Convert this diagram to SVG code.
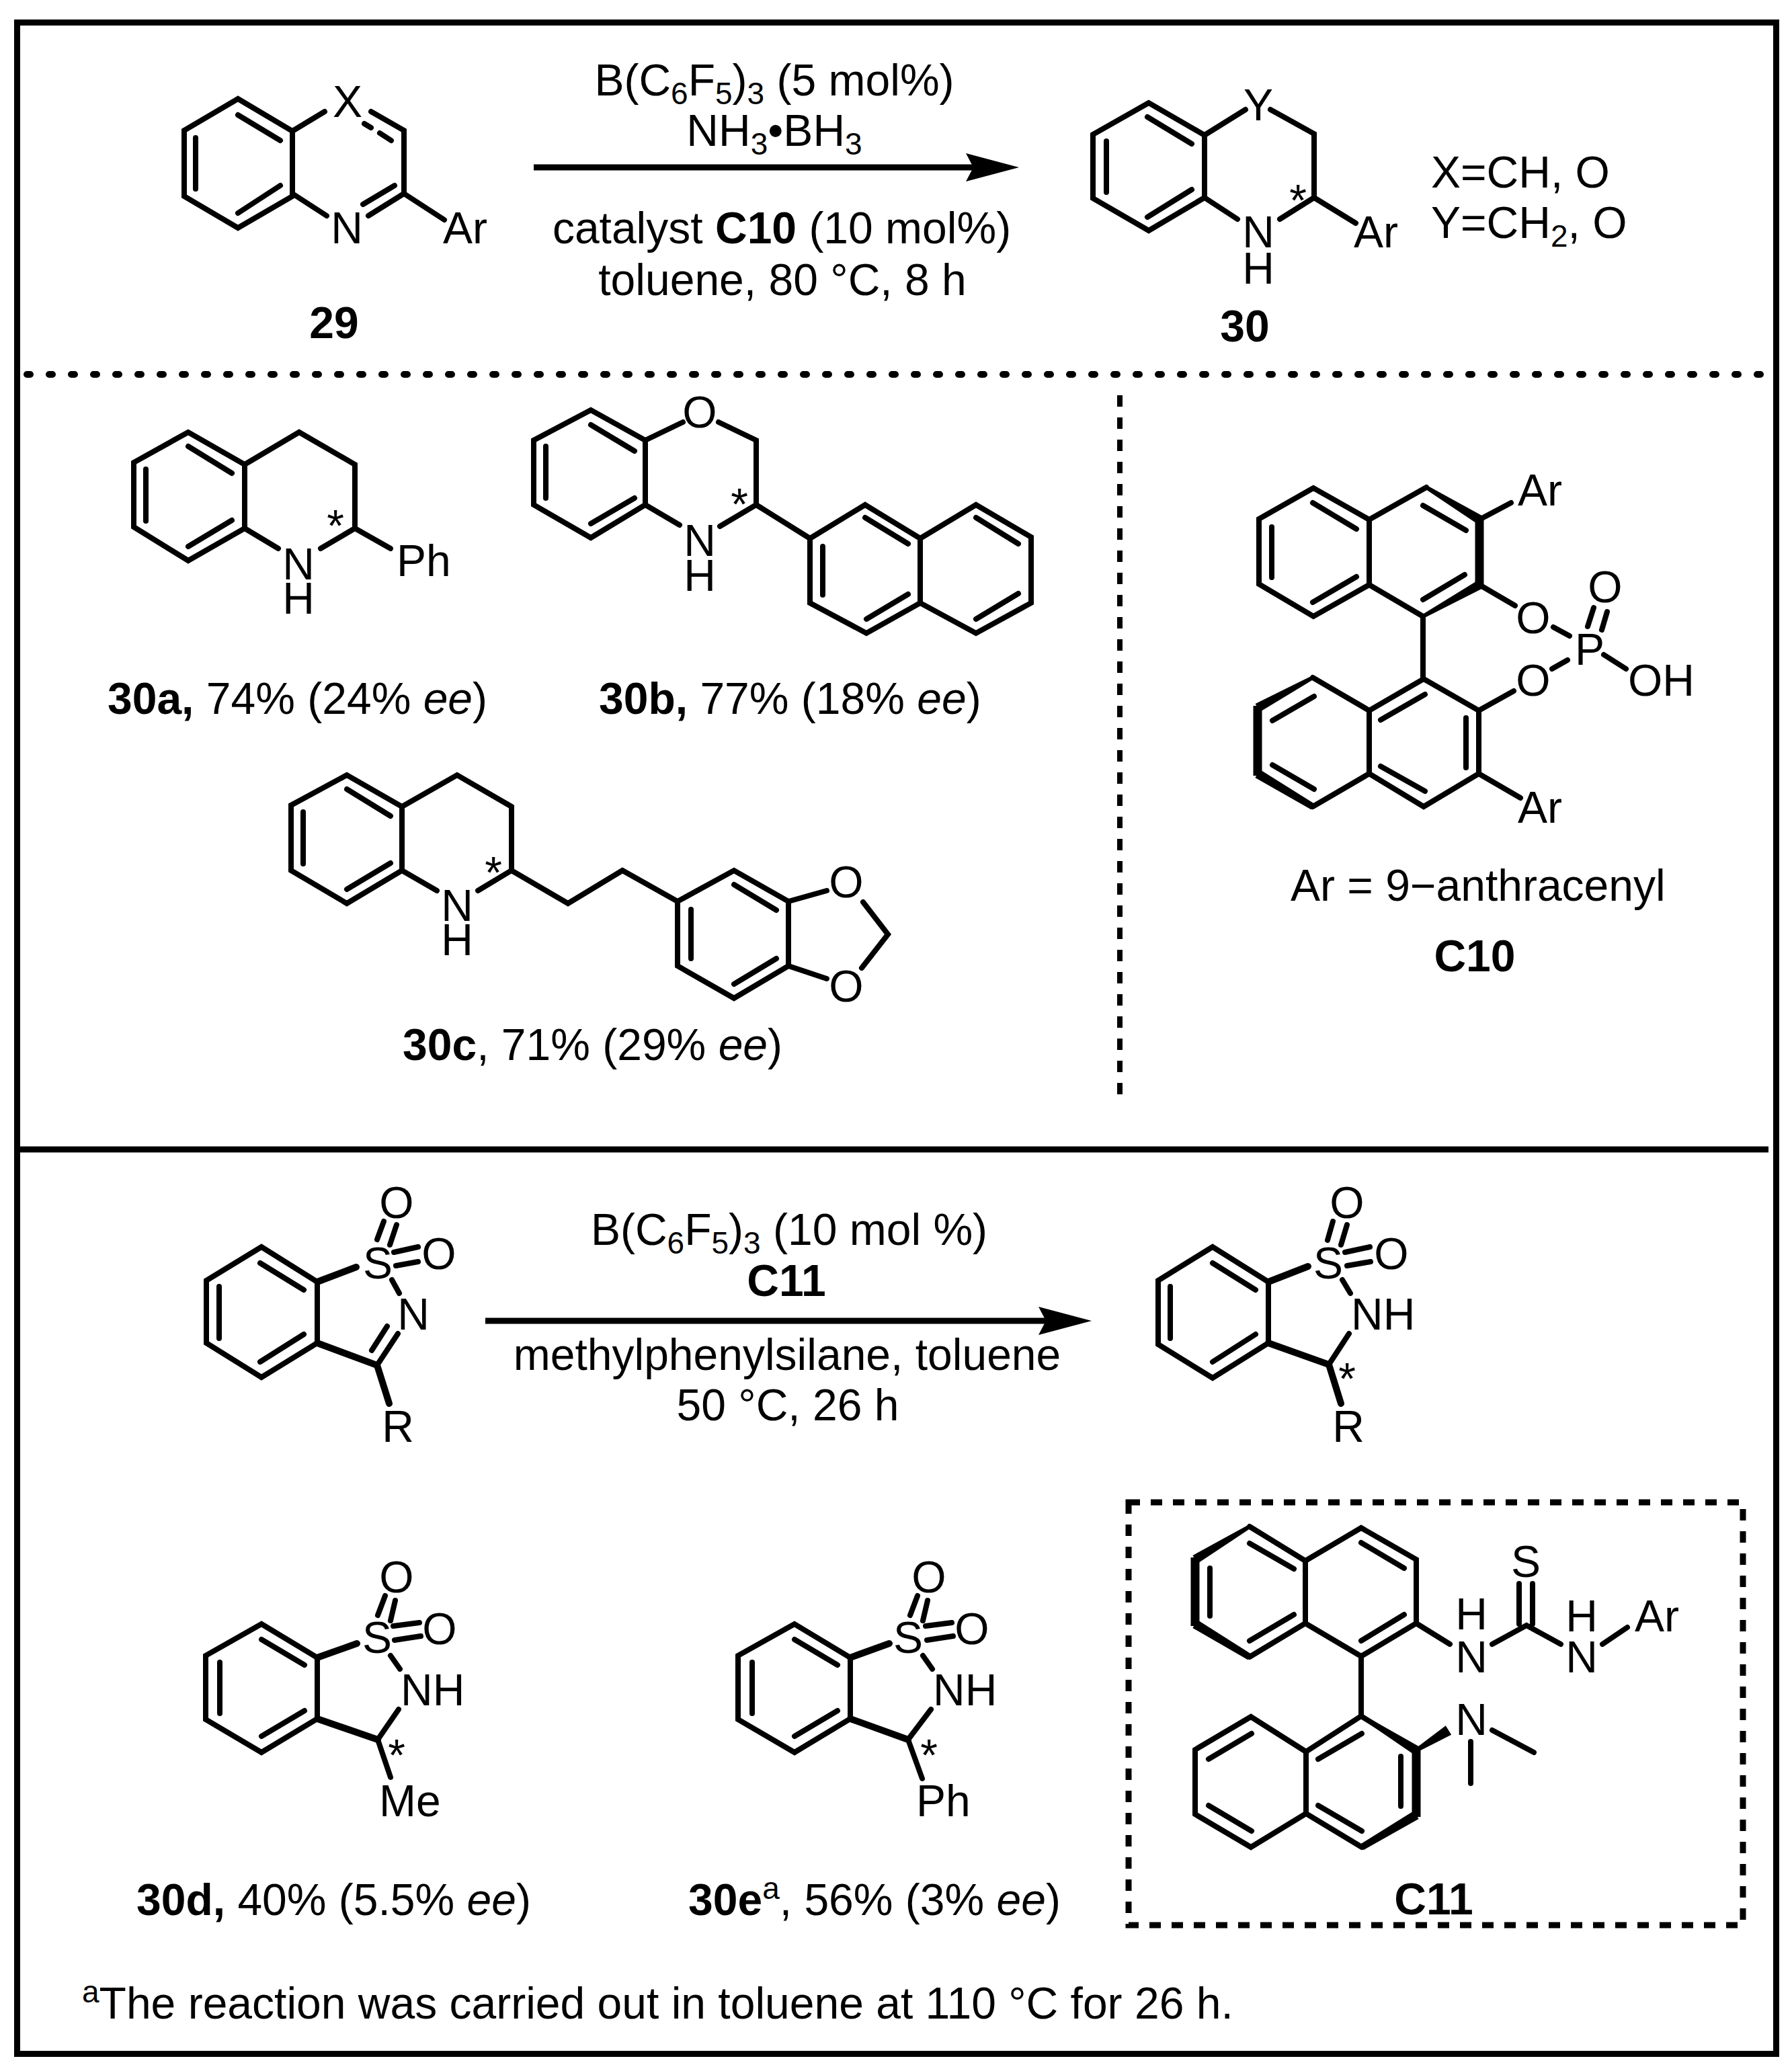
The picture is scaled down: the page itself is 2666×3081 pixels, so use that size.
<svg xmlns="http://www.w3.org/2000/svg" width="2666" height="3081" viewBox="0 0 2666 3081">
<style>
text{font-family:"Liberation Sans",Arial,sans-serif;font-size:66px;fill:#000}
.m{text-anchor:middle}
.b{font-weight:bold}
.i{font-style:italic}
.sub{font-size:46px}
.bond{fill:none;stroke:#000;stroke-width:8;stroke-linecap:round;stroke-linejoin:miter}
.hb{fill:none;stroke:#000;stroke-width:10;stroke-linecap:round}
.th{fill:none;stroke:#000;stroke-width:13;stroke-linecap:butt}
.dash{fill:none;stroke:#000;stroke-width:9;stroke-dasharray:17 16}
</style>
<defs>
<marker id="ah" markerUnits="userSpaceOnUse" viewBox="0 0 79 42" refX="40" refY="21" markerWidth="79" markerHeight="42" orient="auto"><path d="M0 0L79 21L0 42L11 21Z"/></marker>
</defs>
<rect width="2666" height="3081" fill="#fff"/>
<g id="frame">
<rect x="25.5" y="33.5" width="2617" height="3022" fill="none" stroke="#000" stroke-width="9"/>
<path class="dash" d="M40 557H2640" stroke-linecap="round" style="stroke-width:10;stroke-dasharray:5 28"/>
<path class="dash" d="M1666 588V1630" style="stroke-width:8"/>
<path d="M30 1710H2631" stroke="#000" stroke-width="9" fill="none"/>
<rect id="c11-box" class="dash" x="1679" y="2235" width="914" height="629"/>
</g>
<g id="connectors">
<line x1="794" y1="249" x2="1477" y2="249" stroke="#000" stroke-width="9" marker-end="url(#ah)"/>
<line x1="722" y1="1965" x2="1585" y2="1965" stroke="#000" stroke-width="9" marker-end="url(#ah)"/>
</g>
<g id="scheme1-conditions">
<text class="m" x="1152" y="142">B(C<tspan class="sub" dy="13">6</tspan><tspan dy="-13">F</tspan><tspan class="sub" dy="13">5</tspan><tspan dy="-13">)</tspan><tspan class="sub" dy="13">3</tspan><tspan dy="-13"> (5 mol%)</tspan></text>
<text class="m" x="1152" y="217">NH<tspan class="sub" dy="13">3</tspan><tspan dy="-13">•BH</tspan><tspan class="sub" dy="13">3</tspan></text>
<text class="m" x="1163" y="362">catalyst <tspan class="b">C10</tspan> (10 mol%)</text>
<text class="m" x="1164" y="439">toluene, 80 °C, 8 h</text>
</g>
<g id="m29">
<path class="bond" d="M354 147L274 194V292L354 339L435 292V195ZM291 205V281M354 171L417 209M354 317L417 276M435 195L483 166M552 166L601 194V288L548 321M542 184L552 190M565 198L582 209M587 276L540 304M601 288L661 327M435 288L486 321"/>
<text class="m" x="517" y="174">X</text><text class="m" x="516" y="362">N</text><text x="659" y="362">Ar</text>
<text class="m b" x="497" y="503">29</text>
</g>
<g id="m30">
<path class="bond" d="M1709 153L1626 200V295L1709 343L1792 294V201ZM1646 210V286M1707 174L1773 214M1707 323L1773 282M1792 201L1853 163M1890 163L1955 199V294L1904 326M1792 294L1841 326M1955 294L2017 332"/>
<text class="m" x="1872" y="179">Y</text><text class="m" x="1872" y="368">N</text><text class="m" x="1872" y="422">H</text><text x="2014" y="368">Ar</text>
<text class="m" x="1931" y="321">*</text>
<text class="m b" x="1852" y="508">30</text>
</g>
<g id="xy-legend">
<text x="2129" y="279">X=CH, O</text>
<text x="2129" y="354">Y=CH<tspan class="sub" dy="13">2</tspan><tspan dy="-13">, O</tspan></text>
</g>
<g id="m30a">
<path class="bond" d="M280 643L199 688V784L280 834L364 786V691ZM217 698V775M280 664L345 704M280 813L345 774M364 691L445 643L528 691V786L477 816M364 786L414 816M528 786L581 816"/>
<text class="m" x="444" y="862">N</text><text class="m" x="444" y="913">H</text><text x="590" y="857">Ph</text><text class="m" x="499" y="805">*</text>
<text x="160" y="1062"><tspan class="b">30a,</tspan> 74% (24% <tspan class="i">ee</tspan>)</text>
</g>
<g id="m30b">
<path class="bond" d="M879 610L794 655V751L879 800L960 751V655ZM812 664V741M879 632L944 671M879 779L944 741M960 655L1016 628M1069 628L1125 655V751L1071 783M960 751L1011 781M1125 751L1205 801M1205 801L1287 751L1369 801L1452 751L1534 799V897L1452 942L1369 897L1289 942L1205 897ZM1369 801V897M1287 770L1351 809M1224 813V885M1289 921L1351 884M1452 770L1515 809M1515 883L1452 921"/>
<text class="m" x="1041" y="636">O</text><text class="m" x="1041" y="827">N</text><text class="m" x="1041" y="879">H</text><text class="m" x="1100" y="773">*</text>
<text x="891" y="1062"><tspan class="b">30b,</tspan> 77% (18% <tspan class="i">ee</tspan>)</text>
</g>
<g id="m30c">
<path class="bond" d="M516 1153L433 1198V1295L516 1344L598 1295V1200ZM451 1208V1285M516 1174L581 1214M516 1323L581 1284M598 1200L680 1153L761 1200V1295L711 1325M598 1295L650 1325M761 1295L845 1344L926 1295L1008 1341M1008 1341L1092 1295L1173 1341V1437L1092 1485L1008 1437ZM1092 1316L1155 1354M1028 1353V1426M1092 1464L1155 1426M1173 1341L1230 1325M1284 1342L1321 1390L1282 1440M1173 1437L1230 1456"/>
<text class="m" x="680" y="1370">N</text><text class="m" x="680" y="1421">H</text><text class="m" x="734" y="1321">*</text>
<text class="m" x="1259" y="1335">O</text><text class="m" x="1259" y="1490">O</text>
<text x="599" y="1577"><tspan class="b">30c</tspan>, 71% (29% <tspan class="i">ee</tspan>)</text>
</g>
<g id="mC10">
<path class="bond" d="M1954 726L1873 772V869L1954 917L2037 870V773ZM1953 748L2018 787M1892 784V859M1953 896L2018 858M2037 773L2122 725M2117 752L2181 789M2117 892L2179 855M2037 870L2117 917M2201 773L2248 748M2201 870L2254 901M2117 917V1009M2118 1010L2200 1057V1151L2118 1200L2037 1151V1057ZM2037 1057L1953 1008M2037 1151L1953 1200M2054 1071L2120 1033M2181 1068V1142M2054 1140L2120 1177M1893 1072L1955 1036M1893 1138L1955 1174M2200 1057L2252 1028M2200 1151L2262 1187M2311 933L2335 946M2309 995L2332 982M2386 974L2419 995M2371 904L2362 932M2391 910L2383 937"/>
<path d="M2120.4 727.6L2123.6 722.4L2204.6 767L2197.4 779ZM2118.5 919.6L2115.5 914.4L2197.6 863.9L2204.4 876.1ZM1954.4 1010.6L1951.6 1005.4L1867.6 1046.9L1874.4 1059.1ZM1950.4 1204.3L1955.6 1195.7L1874.6 1145L1867.4 1157Z"/>
<path class="th" d="M2201 770V873M1871 1050V1154"/>
<text x="2258" y="752">Ar</text><text class="m" x="2281" y="942">O</text><text class="m" x="2281" y="1035">O</text><text x="2258" y="1224">Ar</text>
<text class="m" x="2365" y="989">P</text><text x="2422" y="1035">OH</text><text class="m" x="2388" y="896">O</text>
<text x="1920" y="1340">Ar = 9−anthracenyl</text>
<text class="m b" x="2194" y="1445">C10</text>
</g>
<g id="scheme2-conditions">
<text class="m" x="1174" y="1852">B(C<tspan class="sub" dy="13">6</tspan><tspan dy="-13">F</tspan><tspan class="sub" dy="13">5</tspan><tspan dy="-13">)</tspan><tspan class="sub" dy="13">3</tspan><tspan dy="-13"> (10 mol %)</tspan></text>
<text class="m b" x="1170" y="1928">C11</text>
<text class="m" x="1171" y="2038">methylphenylsilane, toluene</text>
<text class="m" x="1172" y="2113">50 °C, 26 h</text>
</g>
<g id="m-imine">
<path class="bond" d="M389 1855L307 1905V1998L389 2049L472 1998V1907ZM326 1914V1991M387 1879L452 1919M387 2026L452 1985M571 1817L561 1844M590 1822L580 1852M586 1863L622 1855M589 1883L622 1877M583 1904L594 1924M561 2031L592 1984M553 2009L576 1973"/>
<path class="hb" d="M472 1907L530 1885M472 1998L561 2031L579 2088"/>
<text class="m" x="562" y="1902">S</text><text class="m" x="590" y="1812">O</text><text class="m" x="653" y="1888">O</text><text class="m" x="615" y="1978">N</text><text class="m" x="592" y="2145">R</text>
</g>
<g id="m-sultam">
<path class="bond" d="M1804 1855L1723 1905V2000L1804 2050L1887 1998V1907ZM1741 1914V1991M1804 1879L1868 1919M1804 2026L1868 1985M1983 1817L1975 1845M2004 1822L1995 1852M2001 1863L2038 1855M2004 1883L2039 1877M1997 1904L2009 1924M2007 1984L1977 2030"/>
<path class="hb" d="M1887 1907L1946 1884M1887 1998L1977 2030L1995 2088"/>
<text class="m" x="1976" y="1902">S</text><text class="m" x="2004" y="1812">O</text><text class="m" x="2070" y="1888">O</text><text x="2010" y="1978">NH</text><text class="m" x="2006" y="2145">R</text><text class="m" x="2004" y="2074">*</text>
</g>
<g id="m30d">
<path class="bond" d="M389 2416L306 2463V2558L389 2607L472 2557V2466ZM327 2473V2549M389 2439L453 2477M389 2583L453 2545M573 2374L562 2403M588 2381L581 2411M585 2419L624 2414M587 2440L626 2434M581 2463L595 2483M593 2543L562 2588M562 2588L581 2644"/>
<path class="hb" d="M472 2466L531 2445M472 2557L562 2588"/>
<text class="m" x="561" y="2459">S</text><text class="m" x="590" y="2369">O</text><text class="m" x="654" y="2446">O</text><text x="596" y="2537">NH</text><text x="564" y="2702">Me</text><text class="m" x="590" y="2634">*</text>
<text x="203" y="2849"><tspan class="b">30d,</tspan> 40% (5.5% <tspan class="i">ee</tspan>)</text>
</g>
<g id="m30e">
<path class="bond" d="M1182 2416L1098 2463V2558L1182 2607L1265 2557V2466ZM1119 2473V2549M1182 2439L1246 2477M1182 2583L1246 2545M1365 2374L1354 2403M1380 2381L1373 2411M1377 2419L1416 2414M1379 2440L1418 2434M1373 2463L1387 2483M1385 2543L1351 2588M1351 2588L1372 2646"/>
<path class="hb" d="M1265 2466L1323 2445M1265 2557L1351 2588"/>
<text class="m" x="1351" y="2459">S</text><text class="m" x="1382" y="2369">O</text><text class="m" x="1446" y="2446">O</text><text x="1388" y="2537">NH</text><text x="1363" y="2702">Ph</text><text class="m" x="1382" y="2634">*</text>
<text x="1024" y="2849"><tspan class="b">30e</tspan><tspan class="sub" dy="-24">a</tspan><tspan dy="24">,</tspan> 56% (3% <tspan class="i">ee</tspan>)</text>
</g>
<g id="mC11">
<path class="bond" d="M1859 2271L1942 2322V2415L1859 2465M1942 2322L2025 2273L2107 2320V2415L2025 2464L1942 2415M1859 2296L1925 2334M1800 2333V2404M1859 2441L1925 2402M2025 2295L2089 2333M2025 2441L2089 2402M2025 2464V2553M2025 2553L1943 2606V2698L2026 2748M2025 2553L2107 2604M1943 2606L1861 2554L1778 2603V2699L1861 2748L1943 2698M1961 2617L2026 2579M2084 2613V2687M1961 2686L2026 2724M1798 2617L1862 2579M1798 2686L1862 2724M2107 2415L2157 2446M2220 2446L2271 2418L2322 2446M2384 2446L2421 2421M2260 2356V2416M2280 2356V2416M2220 2574L2282 2607M2188 2591V2653"/>
<path d="M1860.6 2273.6L1857.4 2268.4L1774.4 2314L1781.6 2326ZM1856.4 2469.3L1861.6 2460.7L1781.6 2410L1774.4 2422ZM2023.4 2555.5L2026.6 2550.5L2110.7 2598L2103.3 2610ZM2028.5 2752.3L2023.5 2743.7L2103.4 2694L2110.6 2706ZM2108.6 2606.5L2105.4 2601.5L2150.8 2567.2L2159.2 2580.8Z"/>
<path class="th" d="M1778 2317V2419M2107 2601V2703"/>
<text class="m" x="2189" y="2488">N</text><text class="m" x="2189" y="2424">H</text><text class="m" x="2353" y="2488">N</text><text class="m" x="2353" y="2427">H</text><text x="2432" y="2427">Ar</text><text class="m" x="2270" y="2346">S</text><text class="m" x="2189" y="2581">N</text>
<text class="m b" x="2133" y="2848">C11</text>
</g>
<g id="footnote">
<text x="122" y="3003"><tspan class="sub" dy="-24">a</tspan><tspan dy="24">The reaction was carried out in toluene at 110 °C for 26 h.</tspan></text>
</g>
</svg>
